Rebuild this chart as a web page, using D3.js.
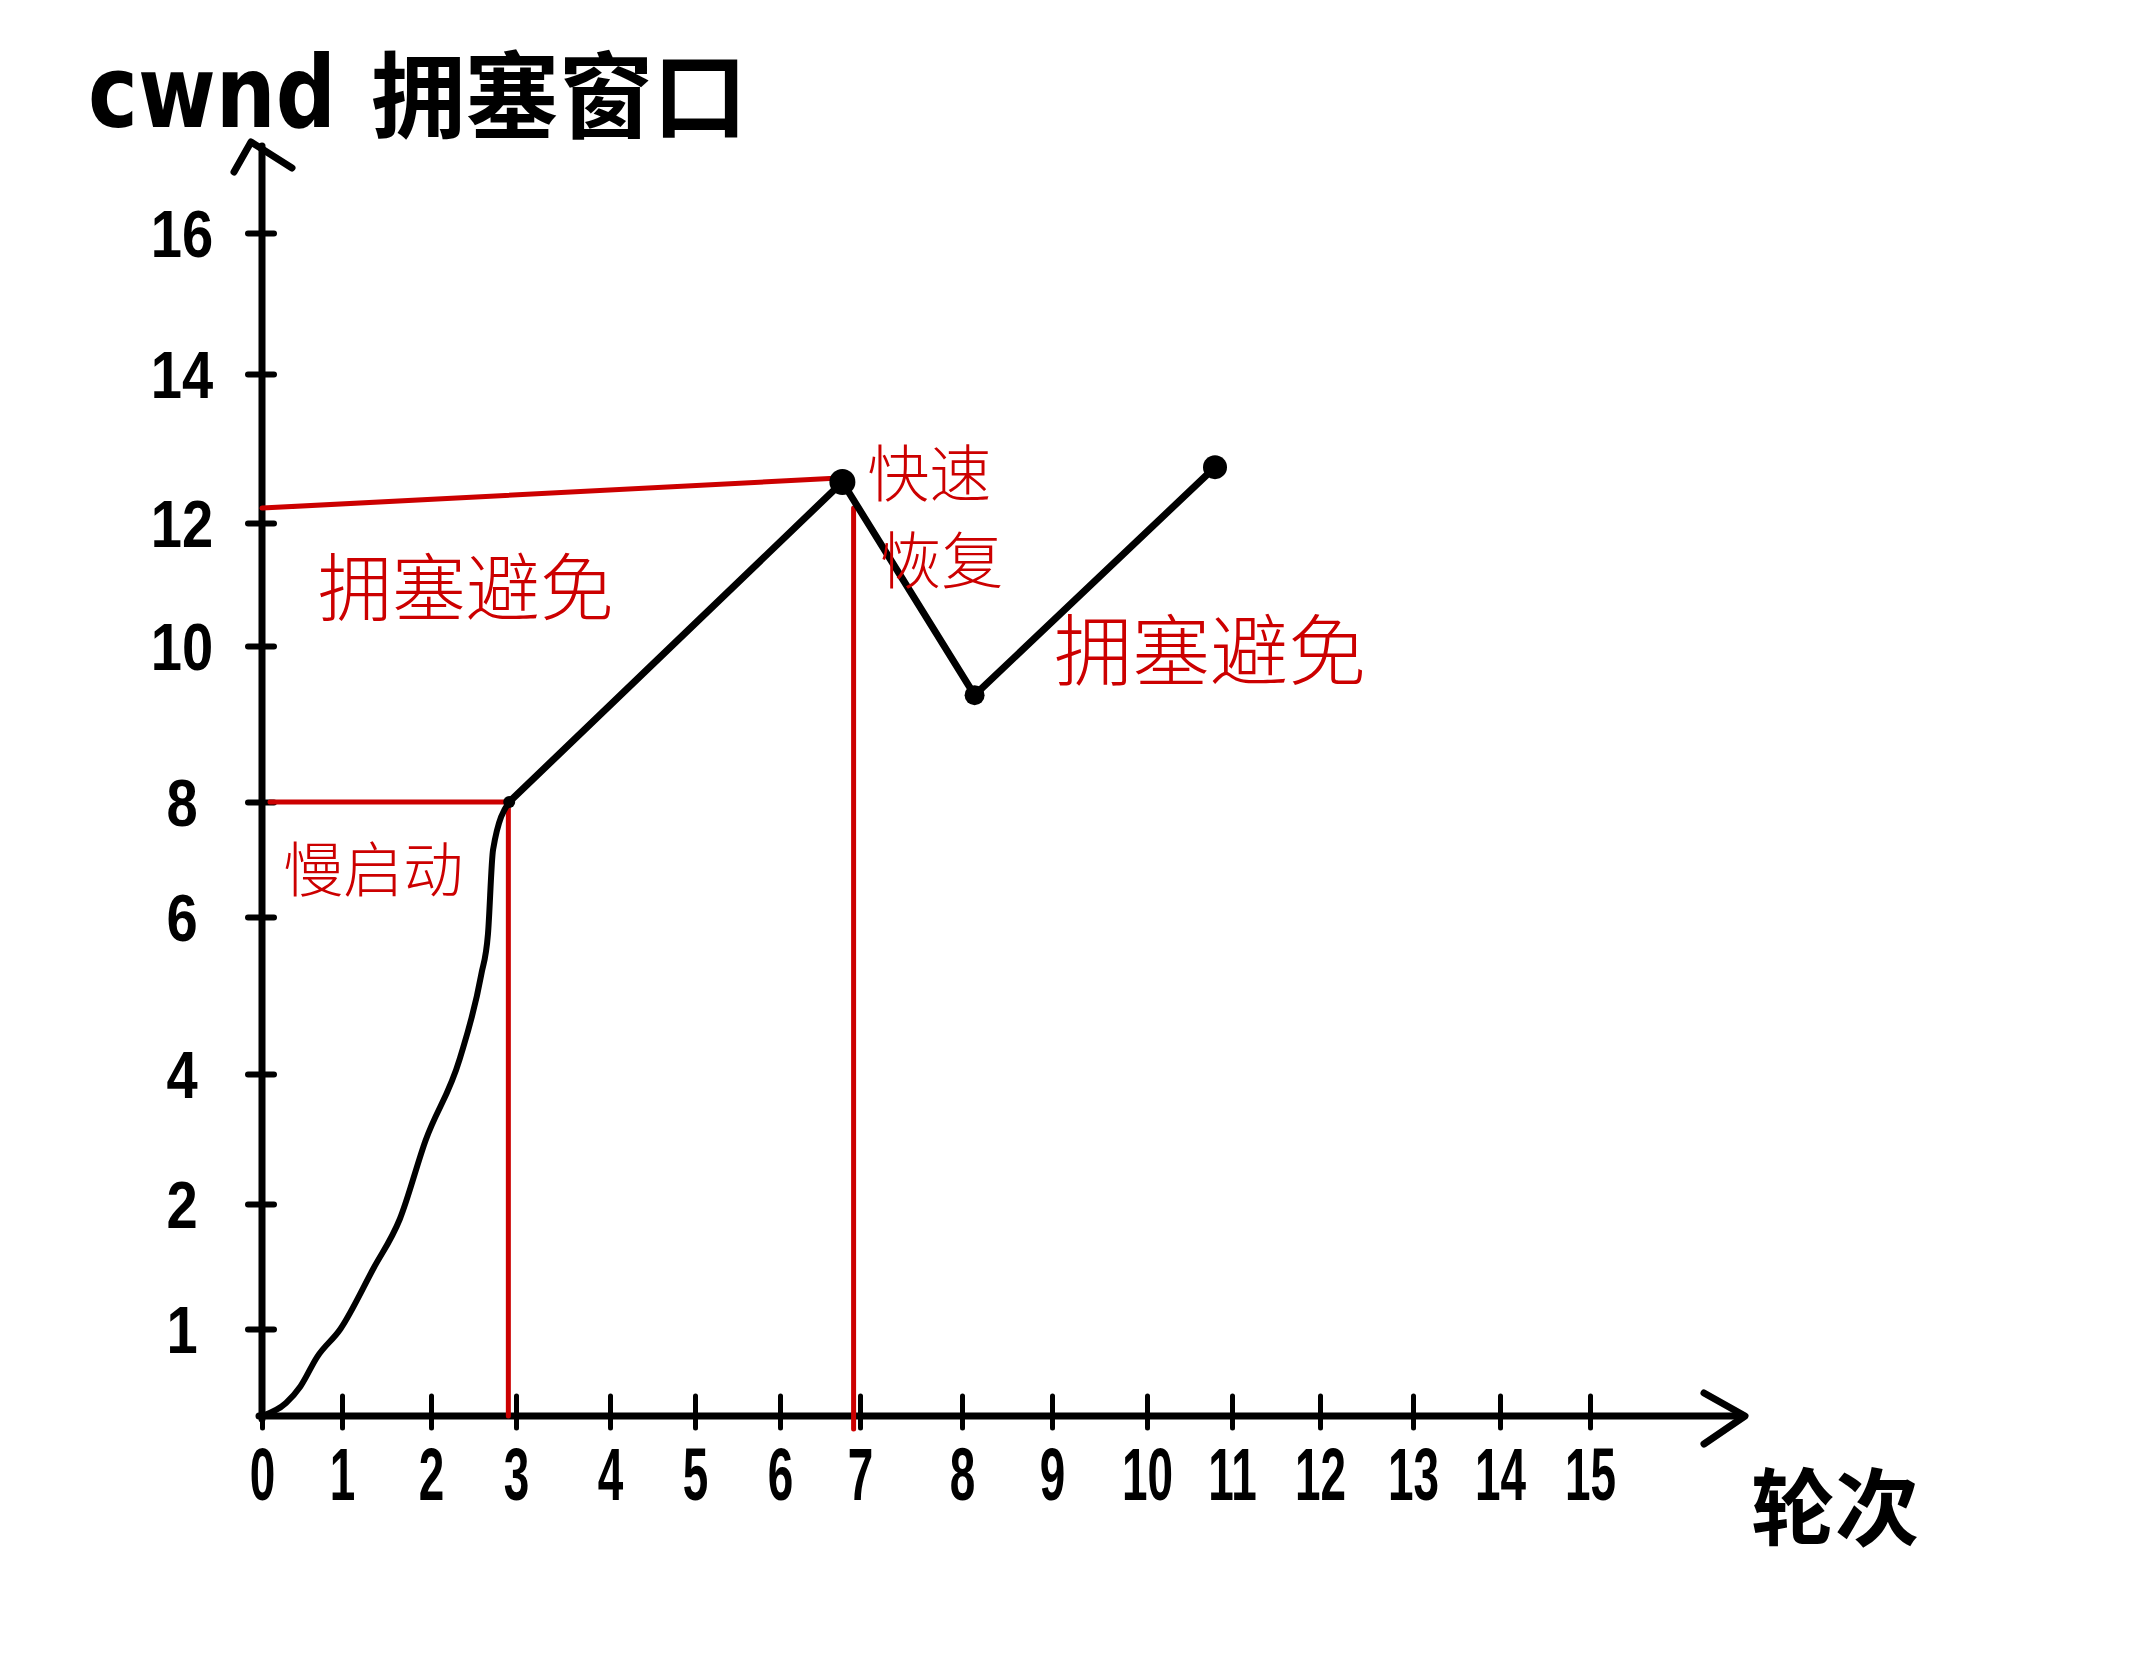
<!DOCTYPE html>
<html>
<head>
<meta charset="utf-8">
<script src="https://cdn.jsdelivr.net/npm/d3@7"></script>
<style>
  html, body { margin: 0; padding: 0; background: #fff; }
  svg { display: block; }
</style>
</head>
<body>
<svg id="chart" width="2154" height="1668"></svg>
<script>
// ---------- data ----------
const xTickValues = [0,1,2,3,4,5,6,7,8,9,10,11,12,13,14,15];
const xTickLabels = ["0","1","2","3","4","5","6","7","8","9","10","11","12","13","14","15"];
const yTickValues = [1,2,4,6,8,10,12,14,16];
const yTickLabels = ["1","2","4","6","8","10","12","14","16"];

// slow start curve (round, cwnd)
const slowStartX = [0, 0.3, 0.48, 0.69, 0.98, 1.35, 1.65, 1.94, 2.34, 2.59, 2.67, 2.73, 2.92];
const slowStartY = [0, 0.15, 0.34, 0.68, 1.0, 1.48, 1.88, 2.98, 4.2, 5.26, 5.78, 7.17, 8];

// congestion avoidance / fast recovery (round, cwnd)
const avoidX = [2.92, 6.78, 8.14, 10.8];
const avoidY = [8, 12.55, 9.37, 12.75];

// marked points
const dotX = [2.92, 6.78, 8.14, 10.8];
const dotY = [8, 12.55, 9.37, 12.75];
const dotR = [6, 13, 10, 12];

// red threshold guide lines
const ssthresh1X = [0.1, 2.92], ssthresh1Y = [8, 8];
const vline1X = [2.91, 2.91], vline1Y = [8, 0];
const ssthresh2X = [0, 6.68], ssthresh2Y = [12.2, 12.6];
const vline2X = [6.92, 6.92], vline2Y = [12.2, -0.15];

// phase annotations
const phaseText = ["慢启动", "拥塞避免", "快速", "恢复", "拥塞避免"];
const phaseX = [1.35, 2.41, 7.68, 7.8, 10.74];
const phaseY = [6.9, 11.04, 12.71, 11.45, 10.0];
const phaseSize = [60, 74, 62, 62, 78];

const yTitleLatin = "cwnd";
const yTitleCJK = "拥塞窗口";
const xTitle = "轮次";

// ---------- layout ----------
const svg = d3.select("#chart");
const RED = "#cc0000";
const DIGIT_FONT = "'Liberation Sans', Arial, sans-serif";
const CJK_FONT = "'Noto Sans CJK SC', 'Noto Sans', sans-serif";

// hand-drawn axes are uneven: piecewise-linear scales following the drawn ticks
const x = d3.scaleLinear()
  .domain(xTickValues)
  .range([262, 342, 431, 516, 610, 695, 780, 860, 962, 1052, 1147, 1232, 1320, 1413, 1500, 1590]);
const y = d3.scaleLinear()
  .domain([0].concat(yTickValues))
  .range([1416, 1329, 1204, 1074, 917, 802, 646, 523, 374, 233]);

const x0 = x(0), y0 = y(0);

// ---------- axes ----------
const xAxis = d3.axisBottom(x)
  .tickValues(xTickValues)
  .tickFormat((d, i) => xTickLabels[i])
  .tickSizeInner(0)
  .tickSizeOuter(0)
  .tickPadding(0);
const gx = svg.append("g").attr("transform", `translate(0,${y0})`).call(xAxis);
gx.select(".domain").remove();
gx.selectAll(".tick line")
  .attr("y1", -20).attr("y2", 12)
  .attr("stroke", "#000").attr("stroke-width", 5).attr("stroke-linecap", "round");
gx.selectAll(".tick text")
  .attr("y", 0).attr("dy", "0.35em")
  .attr("transform", "translate(0,58) scale(0.62,1)")
  .attr("font-family", DIGIT_FONT).attr("font-weight", "bold")
  .attr("font-size", 74).attr("fill", "#000");

const yAxis = d3.axisLeft(y)
  .tickValues(yTickValues)
  .tickFormat((d, i) => yTickLabels[i])
  .tickSizeInner(0)
  .tickSizeOuter(0)
  .tickPadding(0);
const gy = svg.append("g").attr("transform", `translate(${x0},0)`).call(yAxis);
gy.select(".domain").remove();
gy.selectAll(".tick line")
  .attr("x1", -14).attr("x2", 12)
  .attr("stroke", "#000").attr("stroke-width", 6).attr("stroke-linecap", "round");
gy.selectAll(".tick text")
  .attr("x", 0).attr("text-anchor", "middle").attr("dy", "0.35em")
  .attr("transform", "translate(-80,0) scale(0.85,1)")
  .attr("font-family", DIGIT_FONT).attr("font-weight", "bold")
  .attr("font-size", 66).attr("fill", "#000");

// axis lines with arrow heads
const axisG = svg.append("g").attr("fill", "none").attr("stroke", "#000")
  .attr("stroke-linecap", "round").attr("stroke-linejoin", "round");
axisG.append("path").attr("stroke-width", 7)
  .attr("d", `M${x0},${y0 + 3}L${x0},146`);
axisG.append("path").attr("stroke-width", 7)
  .attr("d", `M234,172L251,142L292,168`);
axisG.append("path").attr("stroke-width", 7)
  .attr("d", `M${x0 - 3},${y0}L1743,${y0}`);
axisG.append("path").attr("stroke-width", 7)
  .attr("d", `M1704,1393L1745,${y0}L1704,1444`);

// ---------- red guide lines ----------
const straight = d3.line().x(d => x(d[0])).y(d => y(d[1]));
const redG = svg.append("g").attr("fill", "none").attr("stroke", RED)
  .attr("stroke-width", 5).attr("stroke-linecap", "round");
[[ssthresh1X, ssthresh1Y], [vline1X, vline1Y], [ssthresh2X, ssthresh2Y], [vline2X, vline2Y]]
  .forEach(([xs, ys]) => {
    redG.append("path").attr("d", straight(xs.map((v, i) => [v, ys[i]])));
  });

// ---------- cwnd line ----------
const curve = d3.line().x(d => x(d[0])).y(d => y(d[1])).curve(d3.curveMonotoneX);
svg.append("path")
  .attr("d", curve(slowStartX.map((v, i) => [v, slowStartY[i]])))
  .attr("fill", "none").attr("stroke", "#000").attr("stroke-width", 6)
  .attr("stroke-linecap", "round").attr("stroke-linejoin", "round");
svg.append("path")
  .attr("d", straight(avoidX.map((v, i) => [v, avoidY[i]])))
  .attr("fill", "none").attr("stroke", "#000").attr("stroke-width", 7)
  .attr("stroke-linecap", "round").attr("stroke-linejoin", "round");
svg.append("g").selectAll("circle")
  .data(dotX.map((v, i) => ({ x: v, y: dotY[i], r: dotR[i] })))
  .join("circle")
  .attr("cx", d => x(d.x)).attr("cy", d => y(d.y)).attr("r", d => d.r)
  .attr("fill", "#000");

// ---------- annotations ----------
svg.append("g").selectAll("text")
  .data(phaseText.map((t, i) => ({ t, x: phaseX[i], y: phaseY[i], s: phaseSize[i] })))
  .join("text")
  .attr("x", d => x(d.x)).attr("y", d => y(d.y))
  .attr("text-anchor", "middle").attr("dominant-baseline", "central")
  .attr("font-family", CJK_FONT).attr("font-weight", 300)
  .attr("font-size", d => d.s).attr("fill", RED)
  .text(d => d.t);

// ---------- titles ----------
svg.append("text")
  .attr("x", 88).attr("y", 127)
  .attr("font-family", "'DejaVu Sans', sans-serif").attr("font-weight", "bold")
  .attr("font-size", 100).attr("textLength", 248).attr("lengthAdjust", "spacingAndGlyphs")
  .attr("fill", "#000").text(yTitleLatin);
svg.append("text")
  .attr("x", 371).attr("y", 90)
  .attr("dominant-baseline", "central")
  .attr("font-family", CJK_FONT).attr("font-weight", "bold")
  .attr("font-size", 94).attr("fill", "#000").text(yTitleCJK);
svg.append("text")
  .attr("x", 1835).attr("y", 1502)
  .attr("text-anchor", "middle").attr("dominant-baseline", "central")
  .attr("font-family", CJK_FONT).attr("font-weight", "bold")
  .attr("font-size", 84).attr("fill", "#000").text(xTitle);
</script>
</body>
</html>
